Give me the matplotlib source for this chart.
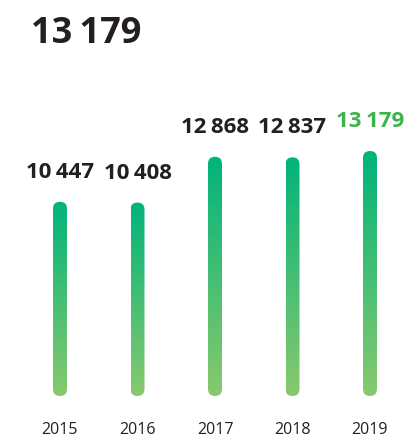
import numpy as np
import matplotlib
matplotlib.use('Agg')
import matplotlib.pyplot as plt
from matplotlib.patches import FancyBboxPatch
from matplotlib.colors import LinearSegmentedColormap

# Yearly totals
years = ['2015', '2016', '2017', '2018', '2019']
values = [10447, 10408, 12868, 12837, 13179]
headline = '13\u2009179'

TOP_COLOR = '#00b47a'
BOTTOM_COLOR = '#88c96e'
TEXT_DARK = '#231f20'
HIGHLIGHT = '#3cb44b'

plt.rcParams['font.family'] = ['Open Sans', 'DejaVu Sans']

W, H, DPI = 408, 439, 100
fig = plt.figure(figsize=(W / DPI, H / DPI), dpi=DPI)
ax = fig.add_axes([0, 0, 1, 1])
ax.axis('off')

# pixel layout -> data limits
x_step = 77.5          # px between bar centres
first_x = 60           # px of first bar centre
base_px = 42           # px from figure bottom to zero line
px_per_unit = 245 / 13179
xlim = (-first_x / x_step, (W - first_x) / x_step)
ylim = (-base_px / px_per_unit, (H - base_px) / px_per_unit)

bar_w = 14 / x_step
aspect = (1 / px_per_unit) / (1 / x_step)   # data-y per data-x for equal pixels

cmap = LinearSegmentedColormap.from_list('g', [BOTTOM_COLOR, TOP_COLOR])
grad = np.linspace(0, 1, 256).reshape(-1, 1)

def fmt(v):
    return f'{v:,}'.replace(',', '\u2009')

for i, v in enumerate(values):
    x0 = i - bar_w / 2
    patch = FancyBboxPatch((x0, 0), bar_w, v,
                           boxstyle=f'round,pad=0,rounding_size={bar_w / 2}',
                           mutation_aspect=aspect,
                           facecolor='none', edgecolor='none')
    ax.add_patch(patch)
    im = ax.imshow(grad, extent=(x0, x0 + bar_w, 0, v), origin='lower',
                   cmap=cmap, aspect='auto', interpolation='bicubic')
    im.set_clip_path(patch)

    color = HIGHLIGHT if i == len(values) - 1 else TEXT_DARK
    ax.annotate(fmt(v), xy=(i, v), xytext=(0, 18), textcoords='offset points',
                ha='center', va='baseline', fontsize=16, fontweight='bold',
                color=color)
    ax.annotate(years[i], xy=(i, 0), xytext=(0, -24), textcoords='offset points',
                ha='center', va='center', fontsize=11.5, color=TEXT_DARK)

ax.set_xlim(*xlim)
ax.set_ylim(*ylim)

fig.text(31 / W, 1 - 43 / H, headline, ha='left', va='baseline',
         fontsize=26, fontweight='bold', color=TEXT_DARK)

fig.savefig('out.png', dpi=DPI)
